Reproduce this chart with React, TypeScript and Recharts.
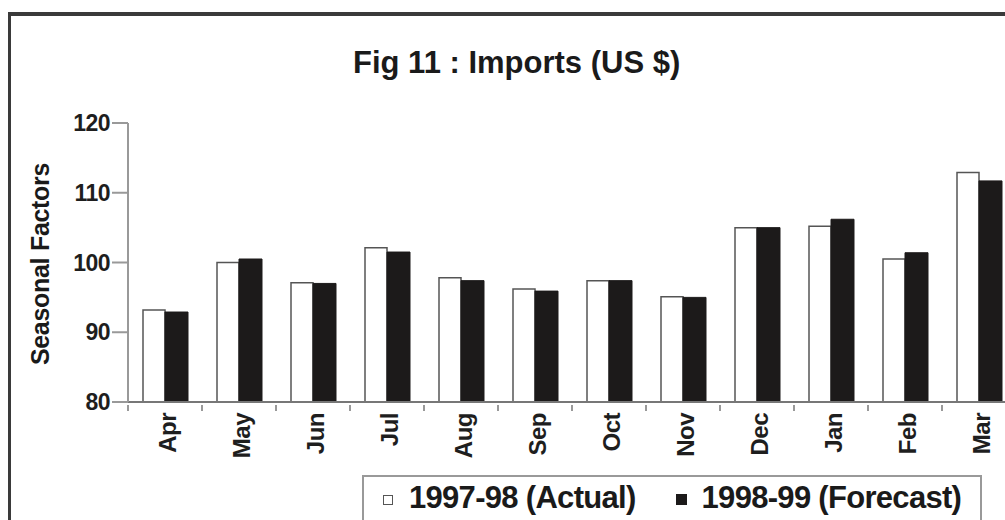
import { BarChart, Bar, XAxis, YAxis } from "recharts";

const months = ["Apr", "May", "Jun", "Jul", "Aug", "Sep", "Oct", "Nov", "Dec", "Jan", "Feb", "Mar"];
const actual9798 = [93.2, 100.0, 97.1, 102.1, 97.8, 96.2, 97.4, 95.1, 105.0, 105.2, 100.5, 112.9];
const forecast9899 = [92.9, 100.5, 97.0, 101.5, 97.4, 95.9, 97.4, 95.0, 105.0, 106.2, 101.4, 111.7];
const yTicks = [80, 90, 100, 110, 120];

const data = months.map((m, i) => ({
  month: m,
  actual: actual9798[i],
  forecast: forecast9899[i],
}));

const FONT = "'Liberation Sans', Arial, sans-serif";
const CHART_W = 1020;
const CHART_H = 520;
const LEFT = 128;
const RIGHT_MARGIN = 4;
const BAND = (CHART_W - LEFT - RIGHT_MARGIN) / months.length;

const MonthTick = ({ x, y, payload }: any) => (
  <g>
    <line x1={x - BAND / 2} x2={x - BAND / 2} y1={y + 3} y2={y + 9} stroke="#999" strokeWidth={2} />
    <text
      transform={`translate(${x + 2},${y + 11}) rotate(-90)`}
      textAnchor="end"
      dominantBaseline="central"
      fontFamily={FONT}
      fontWeight="bold"
      fontSize={24}
      letterSpacing={-0.5}
      fill="#1e1e1e"
    >
      {payload.value}
    </text>
  </g>
);

export default function App() {
  return (
    <div style={{ position: "fixed", left: 0, top: 0, width: 1005, height: 520, overflow: "hidden", background: "#fff" }}>
      <div
        style={{
          position: "absolute",
          left: 8,
          top: 12,
          width: 1100,
          height: 600,
          borderTop: "4px solid #3a3a3a",
          borderLeft: "3px solid #3a3a3a",
        }}
      />
      <div
        style={{
          position: "absolute",
          left: 353,
          top: 45,
          whiteSpace: "nowrap",
          fontFamily: FONT,
          fontWeight: "bold",
          fontSize: 31,
          color: "#1a1a1a",
        }}
      >
        Fig 11 : Imports (US $)
      </div>
      <div
        style={{
          position: "absolute",
          left: 40,
          top: 264,
          transform: "translate(-50%, -50%) rotate(-90deg)",
          whiteSpace: "nowrap",
          fontFamily: FONT,
          fontWeight: "bold",
          fontSize: 25,
          letterSpacing: -0.3,
          color: "#1a1a1a",
        }}
      >
        Seasonal Factors
      </div>
      <div style={{ position: "absolute", left: 0, top: 0 }}>
        <BarChart
          width={CHART_W}
          height={CHART_H}
          data={data}
          margin={{ top: 123, right: RIGHT_MARGIN, bottom: 0, left: 0 }}
          barGap={0}
        >
          <XAxis
            dataKey="month"
            height={118}
            interval={0}
            tick={<MonthTick />}
            tickLine={false}
            tickSize={0}
            tickMargin={0}
            axisLine={{ stroke: "#777", strokeWidth: 2 }}
          />
          <YAxis
            width={LEFT}
            domain={[80, 120]}
            ticks={yTicks}
            allowDataOverflow
            tickSize={16}
            tickMargin={2}
            tickLine={{ stroke: "#999", strokeWidth: 2 }}
            axisLine={{ stroke: "#999", strokeWidth: 2 }}
            tick={{ fontFamily: FONT, fontWeight: "bold", fontSize: 23, letterSpacing: -0.5, fill: "#1e1e1e" }}
          />
          <Bar dataKey="actual" barSize={22} fill="#fff" stroke="#555" strokeWidth={1.5} isAnimationActive={false} />
          <Bar dataKey="forecast" barSize={23} fill="#1c1a1a" stroke="#1c1a1a" isAnimationActive={false} />
        </BarChart>
      </div>
      <div
        style={{
          position: "absolute",
          left: 362,
          top: 475,
          width: 620,
          height: 60,
          border: "2px solid #999",
          boxSizing: "border-box",
          fontFamily: FONT,
          fontWeight: "bold",
          fontSize: 31,
          letterSpacing: -0.7,
          color: "#1a1a1a",
          display: "flex",
          alignItems: "flex-start",
          paddingTop: 3,
          paddingLeft: 19,
          whiteSpace: "nowrap",
        }}
      >
        <span style={{ display: "inline-block", width: 8, height: 8, border: "1.5px solid #555", background: "#fff", marginTop: 15, marginRight: 16 }} />
        <span>1997-98 (Actual)</span>
        <span style={{ display: "inline-block", width: 11, height: 11, background: "#1c1a1a", marginTop: 14, marginLeft: 40, marginRight: 15 }} />
        <span>1998-99 (Forecast)</span>
      </div>
    </div>
  );
}
